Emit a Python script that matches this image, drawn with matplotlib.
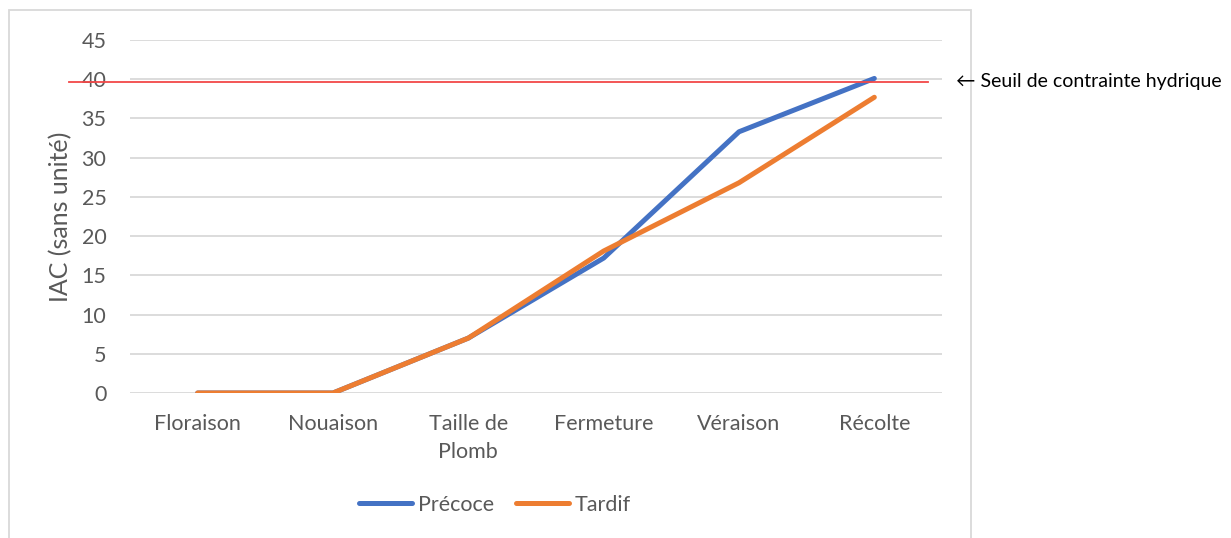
import matplotlib

matplotlib.use("Agg")
import matplotlib.pyplot as plt
from matplotlib.patches import Rectangle
from matplotlib.transforms import blended_transform_factory

stages = ["Floraison", "Nouaison", "Taille de\nPlomb", "Fermeture", "Véraison", "Récolte"]
precoce = [0, 0, 7, 17.2, 33.3, 40.1]
tardif = [0, 0, 7, 18.1, 26.8, 37.7]
seuil = 39.6
seuil_label = "← Seuil de contrainte hydrique"

plt.rcParams["font.family"] = ["Lato", "DejaVu Sans"]
grey = "#595959"

W, H = 1231, 538
fig = plt.figure(figsize=(W / 100, H / 100), dpi=100)
ax = fig.add_axes([130 / W, 1 - 393 / H, 812 / W, 353 / H])

# chart frame (bottom edge runs off the image)
fig.patches.append(Rectangle((9 / W, -0.05), 962 / W, 1.05 - 10 / H,
                             transform=fig.transFigure, fill=False,
                             edgecolor="#d9d9d9", linewidth=1.3))

x = range(len(stages))
ax.plot(x, precoce, color="#4472C4", linewidth=3.6, solid_capstyle="round",
        label="Précoce", zorder=3)
ax.plot(x, tardif, color="#ED7D31", linewidth=3.6, solid_capstyle="round",
        label="Tardif", zorder=3)

trans = blended_transform_factory(ax.transAxes, ax.transData)
ax.plot([(69 - 130) / 812, (928 - 130) / 812], [seuil, seuil], transform=trans,
        color="#F24848", linewidth=1.3, clip_on=False, zorder=4)
fig.text(956 / W, 1 - 82 / H, seuil_label, fontsize=14, color="black",
         va="center", ha="left")

ax.set_xlim(-0.5, len(stages) - 0.5)
ax.set_ylim(0, 45)
ax.set_yticks(range(0, 46, 5))
ax.set_xticks(list(x))
ax.set_xticklabels(stages, linespacing=1.5)
ax.tick_params(axis="both", length=0, labelsize=15.5, labelcolor=grey)
ax.tick_params(axis="x", pad=15)
ax.tick_params(axis="y", pad=17)
ax.grid(axis="y", color="#d9d9d9", linewidth=1.3)
ax.set_axisbelow(True)
for spine in ax.spines.values():
    spine.set_visible(False)
ax.set_ylabel("IAC (sans unité)", fontsize=18, color=grey)
ax.yaxis.set_label_coords((72 - 130) / 812, 0.5)

ax.legend(loc="center", bbox_to_anchor=(495 / W, 1 - 505 / H),
          bbox_transform=fig.transFigure, ncol=2, frameon=False,
          fontsize=15.5, labelcolor=grey, handlelength=2.45, handletextpad=0.25,
          columnspacing=1.05)

fig.savefig("out.png", dpi=100)
